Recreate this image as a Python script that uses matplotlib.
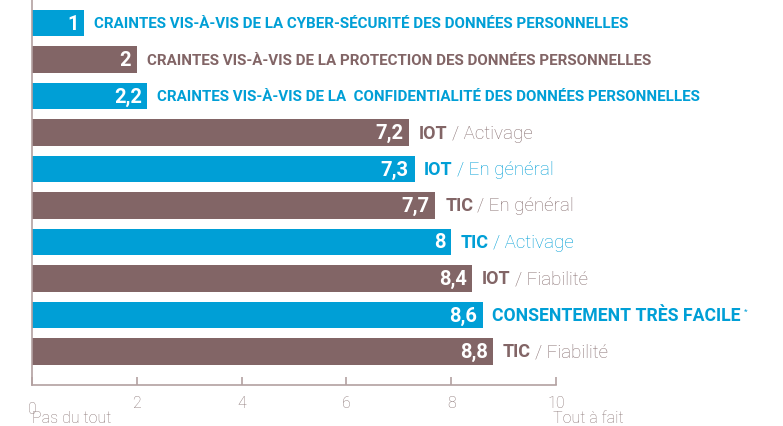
import matplotlib.pyplot as plt

values = [1, 2, 2.2, 7.2, 7.3, 7.7, 8, 8.4, 8.6, 8.8]
bold_labels = [
    "CRAINTES VIS-À-VIS DE LA CYBER-SÉCURITÉ DES DONNÉES PERSONNELLES",
    "CRAINTES VIS-À-VIS DE LA PROTECTION DES DONNÉES PERSONNELLES",
    "CRAINTES VIS-À-VIS DE LA  CONFIDENTIALITÉ DES DONNÉES PERSONNELLES",
    "IOT", "IOT", "TIC", "TIC", "IOT",
    "CONSENTEMENT TRÈS FACILE", "TIC",
]
light_labels = ["", "", "", "/ Activage", "/ En général", "/ En général",
                "/ Activage", "/ Fiabilité", "", "/ Fiabilité"]
xticks = [0, 2, 4, 6, 8, 10]

BLUE = "#009fd6"
BROWN = "#826566"
AXIS = "#b3a1a1"
TXT = "#8c7878"

plt.rcParams['font.family'] = ['Roboto', 'DejaVu Sans']

fig = plt.figure(figsize=(7.83, 4.27), dpi=100)
ax = fig.add_axes([32 / 783, 41 / 427, 524 / 783, 386 / 427])

rows = list(range(len(values)))
colors = [BLUE if i % 2 == 0 else BROWN for i in rows]
ax.barh(rows, values, height=0.72, color=colors)
ax.set_ylim(9.92, -0.66)
ax.set_xlim(0, 10)

for i, v in enumerate(values):
    s = str(v).replace('.', ',') if v != int(v) else str(int(v))
    ax.annotate(s, (v, i), xytext=(-4, 0), textcoords='offset points',
                ha='right', va='center', color='white', fontsize=14.5, fontweight='bold')
    lab = bold_labels[i]
    if lab.startswith("CRAINTES"):
        size = 10.9
    elif lab.startswith("CONSENTEMENT"):
        size = 12.7
    else:
        size = 13
    t = ax.annotate(lab, (v, i), xytext=(7, 0), textcoords='offset points',
                    ha='left', va='center', color=colors[i],
                    fontsize=size, fontweight='bold')
    if light_labels[i]:
        ax.annotate(light_labels[i], xy=(1, 0.5), xycoords=t, xytext=(3, 0),
                    textcoords='offset points', ha='left', va='center',
                    color=colors[i] if i % 2 == 0 else "#876f70",
                    fontsize=13.5, fontweight='light')
    if lab.startswith("CONSENTEMENT"):
        ax.annotate("*", xy=(1, 0.75), xycoords=t, xytext=(2, 0), textcoords='offset points',
                    ha='left', va='center', color=BLUE, fontsize=6)

for side in ['top', 'right']:
    ax.spines[side].set_visible(False)
ax.spines['left'].set_color(AXIS)
ax.spines['bottom'].set_color(AXIS)
ax.spines['left'].set_linewidth(1.2)
ax.spines['bottom'].set_linewidth(1.2)
ax.set_yticks([])
ax.set_xticks(xticks)
ax.set_xticklabels(['' if x == 0 else str(x) for x in xticks])
ax.tick_params(axis='x', direction='in', length=6, width=1.2, color=AXIS,
               labelcolor=TXT, labelsize=11.5, pad=7)
for lab in ax.get_xticklabels():
    lab.set_fontweight('light')

tr = ax.get_xaxis_transform()
ax.text(0, -0.062, "0", transform=tr, ha='center', va='center', color=TXT,
        fontsize=11.5, fontweight='light')
ax.text(0, -0.085, "Pas du tout", transform=tr, ha='left', va='center', color=TXT,
        fontsize=11.5, fontweight='light', clip_on=False)
ax.text(9.94, -0.085, "Tout à fait", transform=tr, ha='left', va='center', color=TXT,
        fontsize=11.5, fontweight='light', clip_on=False)

fig.savefig("out.png", dpi=100)
